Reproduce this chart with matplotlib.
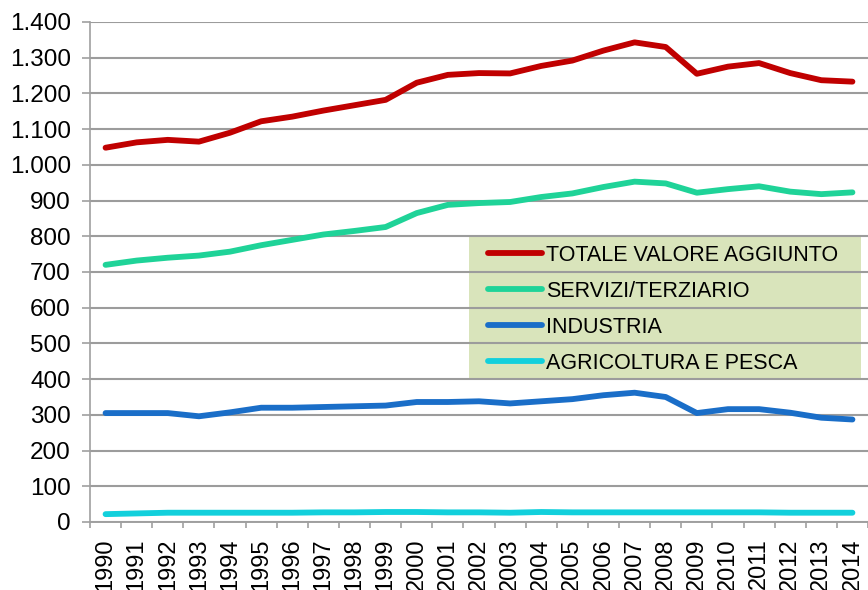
import numpy as np
import matplotlib.pyplot as plt
from matplotlib.patches import Rectangle
from matplotlib.ticker import FuncFormatter, FixedLocator

anni = [str(a) for a in range(1990, 2015)]

totale = [1048, 1063, 1070, 1065, 1090, 1122, 1135, 1152, 1167, 1182, 1230, 1252, 1257,
          1256, 1277, 1292, 1320, 1343, 1330, 1255, 1275, 1285, 1257, 1237, 1233]
servizi = [720, 732, 740, 746, 757, 775, 790, 805, 815, 826, 865, 888, 893,
           896, 910, 920, 938, 953, 948, 922, 932, 940, 925, 918, 923]
industria = [305, 305, 305, 296, 307, 320, 320, 322, 324, 326, 336, 336, 338,
             332, 338, 344, 355, 362, 350, 305, 316, 316, 306, 292, 287]
agricoltura = [22, 24, 26, 26, 26, 26, 26, 27, 27, 28, 28, 27, 27,
               26, 28, 27, 27, 27, 27, 27, 27, 27, 26, 26, 26]

plt.rcParams['font.family'] = ['Liberation Sans', 'DejaVu Sans']

fig = plt.figure(figsize=(8.68, 5.9), dpi=100)
ax = fig.add_axes([90 / 868, 1 - 522 / 590, 778 / 868, 500 / 590])

x = np.arange(len(anni))
lw = 4.2
ax.plot(x, totale, color="#c00000", lw=lw, label="TOTALE VALORE AGGIUNTO", solid_capstyle="round")
ax.plot(x, servizi, color="#1fd398", lw=lw, label="SERVIZI/TERZIARIO", solid_capstyle="round")
ax.plot(x, industria, color="#1a6ec8", lw=lw, label="INDUSTRIA", solid_capstyle="round")
ax.plot(x, agricoltura, color="#12d0dc", lw=lw, label="AGRICOLTURA E PESCA", solid_capstyle="round")

ax.set_xlim(-0.5, len(anni) - 0.5)
ax.set_ylim(0, 1400)
ax.set_yticks(range(0, 1401, 100))
ax.yaxis.set_major_formatter(FuncFormatter(lambda v, p: f"{int(v):,}".replace(",", ".")))
ax.grid(axis="y", color="#9c9c9c", lw=1.5)
ax.set_axisbelow(True)

# sfondo della legenda sotto la griglia
ax.add_patch(Rectangle(((469 - 90) / 778, (522 - 378) / 500), (861 - 469) / 778, 141 / 500,
                       transform=ax.transAxes, facecolor="#d9e4bb", edgecolor="none", zorder=0.3))

ax.set_xticks(x)
ax.set_xticklabels(anni, rotation=90, fontsize=17)
ax.tick_params(axis="x", which="major", length=0, pad=12)
ax.xaxis.set_minor_locator(FixedLocator(np.arange(-0.5, len(anni), 1)))
ax.tick_params(axis="x", which="minor", length=4, color="#a0a0a0", width=1.2)
ax.tick_params(axis="y", labelsize=17.5, length=5.8, color="#a0a0a0", width=1.2, pad=8)

for s in ["top", "right"]:
    ax.spines[s].set_visible(False)
ax.spines["left"].set_color("#a0a0a0")
ax.spines["left"].set_linewidth(1.2)
ax.spines["bottom"].set_color("#a0a0a0")
ax.spines["bottom"].set_linewidth(1.4)

leg = ax.legend(loc="upper left", bbox_to_anchor=((488 - 90) / 778, (522 - 245) / 500),
                fontsize=15.5, frameon=False, handlelength=2.5,
                handletextpad=0.2, labelspacing=0.69, borderpad=0, borderaxespad=0)

fig.savefig("out.png", dpi=100)
